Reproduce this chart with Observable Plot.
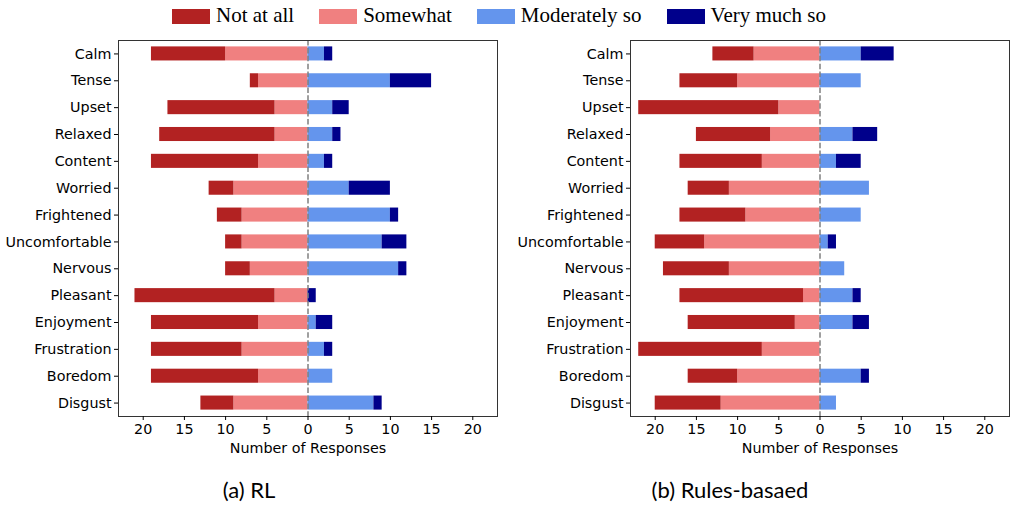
<!DOCTYPE html>
<html>
<head>
<meta charset="utf-8">
<script src="https://cdn.jsdelivr.net/npm/d3@7"></script>
<script src="https://cdn.jsdelivr.net/npm/@observablehq/plot@0.6"></script>
<style>
  html, body { margin: 0; padding: 0; background: #fff; }
  #page { position: relative; width: 1012px; height: 508px; overflow: hidden; background: #fff; }
  #legend { position: absolute; left: 172px; top: 3px; display: flex; align-items: center; font-family: "Liberation Serif", "Times New Roman", serif; font-size: 21px; color: #000; z-index: 2; }
  .item { display: flex; align-items: center; margin-right: 25px; }
  .sw { width: 38px; height: 15px; margin-right: 6px; margin-top: 2px; }
  .chart { position: absolute; top: 30px; }
  .cap { position: absolute; top: 476px; font-family: "Lato", "Open Sans", sans-serif; font-size: 22px; color: #000; transform: translateX(-50%); white-space: nowrap; }
</style>
</head>
<body>
<div id="page">
  <div id="legend"></div>
  <div id="c1" class="chart" style="left:0px"></div>
  <div id="c2" class="chart" style="left:506px"></div>
  <div class="cap" style="left:249px">(a) RL</div>
  <div class="cap" style="left:730px">(b) Rules-basaed</div>
</div>
<script>
const emotions = ["Calm","Tense","Upset","Relaxed","Content","Worried","Frightened","Uncomfortable","Nervous","Pleasant","Enjoyment","Frustration","Boredom","Disgust"];
const levels = ["Not at all","Somewhat","Moderately so","Very much so"];
const colors = ["#b22222","#f08080","#6495ed","#00008b"];
const xTicks = [-20,-15,-10,-5,0,5,10,15,20];

// (a) RL
const rlNotAtAll   = [9,1,13,14,13,3,3,2,3,17,13,11,13,4];
const rlSomewhat   = [10,6,4,4,6,9,8,8,7,4,6,8,6,9];
const rlModerately = [2,10,3,3,2,5,10,9,11,0,1,2,3,8];
const rlVeryMuch   = [1,5,2,1,1,5,1,3,1,1,2,1,0,1];

// (b) Rules-based
const rbNotAtAll   = [5,7,17,9,10,5,8,6,8,15,13,15,6,8];
const rbSomewhat   = [8,10,5,6,7,11,9,14,11,2,3,7,10,12];
const rbModerately = [5,5,0,4,2,6,5,1,3,4,4,0,5,2];
const rbVeryMuch   = [4,0,0,3,3,0,0,1,0,1,2,0,1,0];

const legend = document.getElementById("legend");
levels.forEach((l, i) => {
  const it = document.createElement("div");
  it.className = "item";
  const sw = document.createElement("div");
  sw.className = "sw";
  sw.style.background = colors[i];
  const tx = document.createElement("span");
  tx.textContent = l;
  it.appendChild(sw); it.appendChild(tx);
  legend.appendChild(it);
});

function chart(notAtAll, somewhat, moderately, veryMuch, marginLeft, marginRight) {
  const data = [];
  emotions.forEach((e, i) => {
    data.push({emotion: e, level: "Somewhat", value: -somewhat[i]});
    data.push({emotion: e, level: "Not at all", value: -notAtAll[i]});
    data.push({emotion: e, level: "Moderately so", value: moderately[i]});
    data.push({emotion: e, level: "Very much so", value: veryMuch[i]});
  });
  return Plot.plot({
    width: 506, height: 430,
    marginTop: 10, marginBottom: 44, marginLeft, marginRight,
    style: {fontFamily: "DejaVu Sans", fontSize: "14.3px", color: "#000", background: "transparent", overflow: "visible"},
    x: {domain: [-23, 23]},
    y: {domain: emotions, padding: 0, round: false},
    color: {domain: levels, range: colors},
    marks: [
      Plot.barX(data, {x: "value", y: "emotion", fill: "level", insetTop: 6.4, insetBottom: 6.4,
                       order: ["Somewhat","Not at all","Moderately so","Very much so"]}),
      Plot.ruleX([0], {stroke: "gray", strokeWidth: 1.5, strokeDasharray: "5.5,2.4"}),
      Plot.frame({stroke: "#333"}),
      Plot.axisY({tickSize: 4, tickPadding: 3, label: null}),
      Plot.axisX({ticks: xTicks, tickFormat: d => Math.abs(d), tickSize: 4, tickPadding: 3,
                  label: "Number of Responses", labelAnchor: "center", labelArrow: "none", labelOffset: 36})
    ]
  });
}

document.getElementById("c1").appendChild(chart(rlNotAtAll, rlSomewhat, rlModerately, rlVeryMuch, 118, 9));
document.getElementById("c2").appendChild(chart(rbNotAtAll, rbSomewhat, rbModerately, rbVeryMuch, 124, 3));
</script>
</body>
</html>
